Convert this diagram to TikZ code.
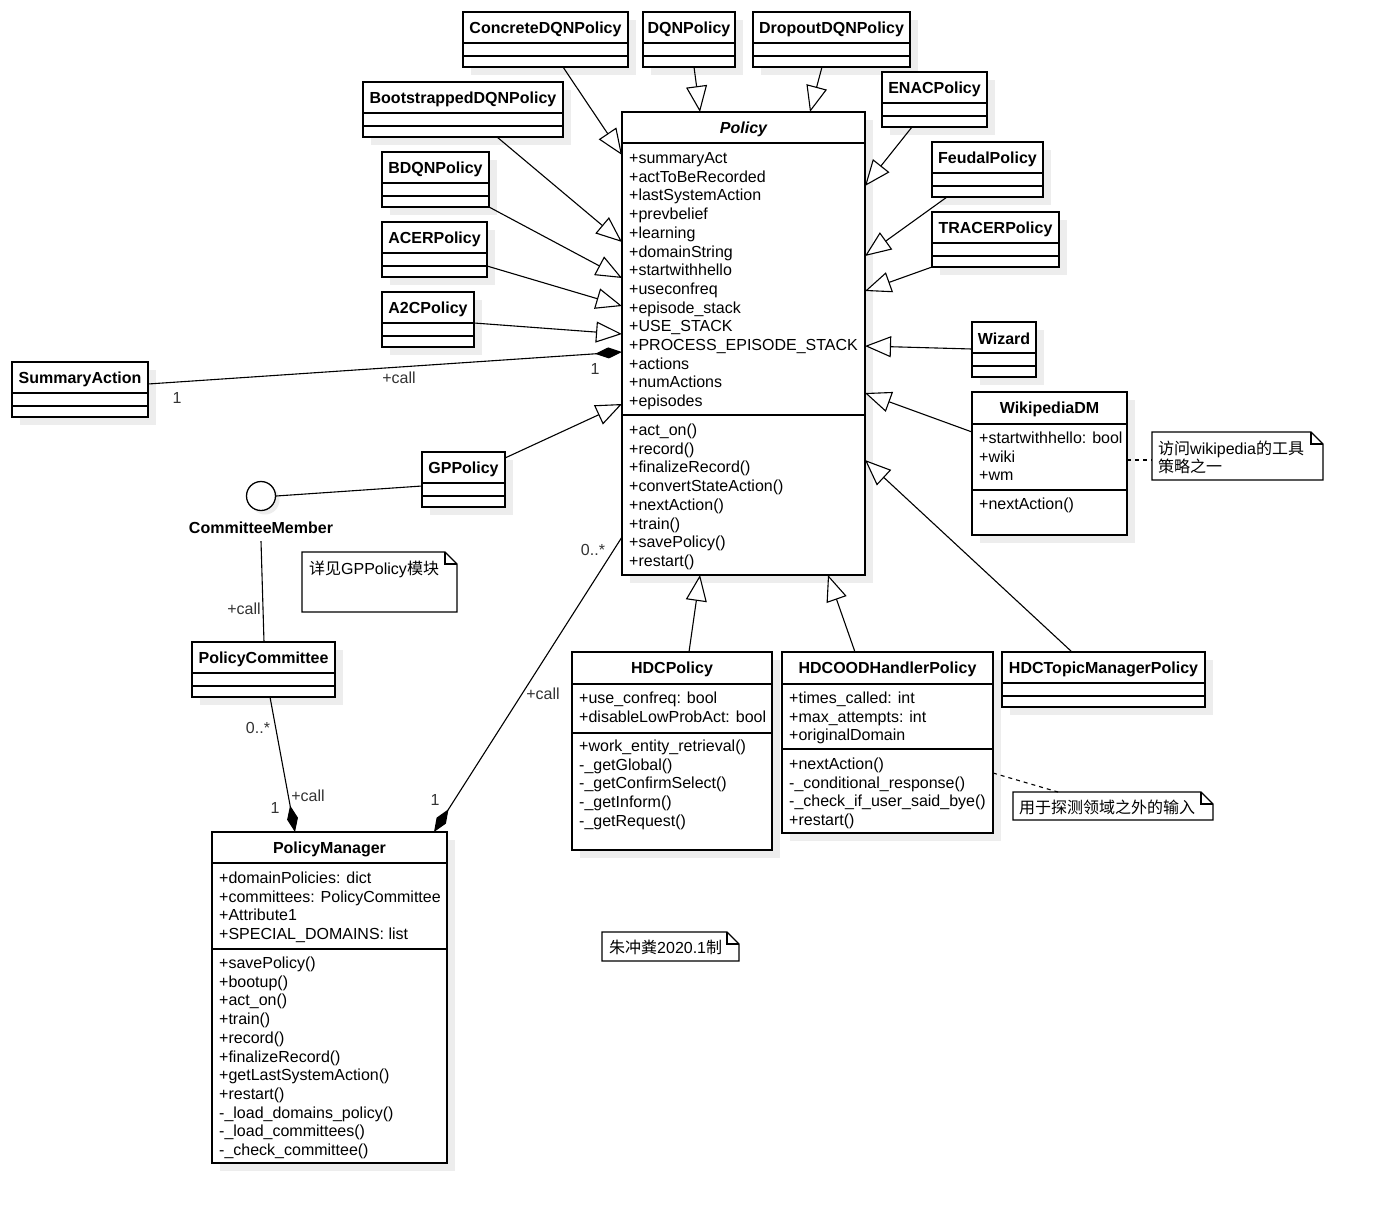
\documentclass[tikz,border=0pt]{standalone}
\usepackage{fontspec}
\setmainfont{Liberation Sans}
\newfontfamily\cjk{Noto Sans CJK SC}
\usetikzlibrary{arrows.meta,calc}
\tikzset{
  shd/.style={fill=black!7, draw=none},
  clsbox/.style={draw, line width=1.3pt, fill=white, inner sep=0pt, outer sep=0pt},
  sepline/.style={line width=1.3pt},
  ttl/.style={font=\fontsize{16}{18.7}\selectfont\bfseries, inner sep=0pt},
  txt/.style={font=\fontsize{16}{18.7}\selectfont, anchor=base west, inner sep=0pt},
  lbl/.style={font=\fontsize{16}{18.7}\selectfont, inner sep=0pt, text=black!80},
  gen/.style={line width=1.1pt, -{Triangle[length=26pt, width=21pt, fill=white]}},
  comp/.style={line width=1.1pt, -{Diamond[length=27pt, width=11pt, fill=black]}},
  assoc/.style={line width=1.1pt},
  dsh/.style={line width=1.1pt, dash pattern=on 4pt off 4pt},
  notebox/.style={draw=none, inner sep=0pt, outer sep=0pt},
  noteline/.style={line width=1.3pt, fill=white},
}
\newcommand\ucls[6]{%
  \fill[shd] (#2+8,#3+8) rectangle ++(#4,#5);
  \node[clsbox, minimum width=#4pt, minimum height=#5pt, anchor=north west] (#1) at (#2,#3) {};
  \node[ttl] (#1-title) at (#2+#4/2,#3+17) {#6};
}
\newcommand\ecls[5]{%
  \ucls{#1}{#2}{#3}{#4}{55}{#5}
  \draw[sepline] (#2,#3+31) -- ++(#4,0);
  \draw[sepline] (#2,#3+44) -- ++(#4,0);
}
\newcommand\tlines[4]{%
  \foreach \s [count=\i from 0] in {#4} {\node[txt] (#1-\i) at (#2,#3+6.5+18.7*\i) {\s};}
}
\newcommand\unote[5]{%
  \node[notebox, minimum width=#4pt, minimum height=#5pt, anchor=north west] (#1) at (#2,#3) {};
  \draw[noteline] (#1.north west) -- ($(#1.north east)+(-12,0)$) -- ($(#1.north east)+(0,12)$) -- (#1.south east) -- (#1.south west) -- cycle;
  \draw[line width=1.1pt] ($(#1.north east)+(-12,0)$) -- ($(#1.north east)+(-12,12)$) -- ($(#1.north east)+(0,12)$);
}
\begin{document}
\begin{tikzpicture}[x=1pt,y=-1pt]
\fill[white] (0,0) rectangle (1373,1213);
\useasboundingbox (0,0) rectangle (1373,1213);

% ---------- simple classes ----------
\ecls{concrete}{463}{12}{165}{ConcreteDQNPolicy}
\ecls{dqn}{643}{12}{92}{DQNPolicy}
\ecls{dropout}{753}{12}{157}{DropoutDQNPolicy}
\ecls{boot}{363}{82}{200}{BootstrappedDQNPolicy}
\ecls{enac}{882}{72}{105}{ENACPolicy}
\ecls{bdqn}{382}{152}{107}{BDQNPolicy}
\ecls{feudal}{932}{142}{111}{FeudalPolicy}
\ecls{acer}{382}{222}{105}{ACERPolicy}
\ecls{tracer}{932}{212}{127}{TRACERPolicy}
\ecls{atc}{382}{292}{92}{A2CPolicy}
\ecls{wizard}{972}{322}{64}{Wizard}
\ecls{summary}{12}{362}{136}{SummaryAction}
\ecls{gp}{422}{452}{83}{GPPolicy}
\ecls{pcomm}{192}{642}{143}{PolicyCommittee}
\ecls{topic}{1002}{652}{203}{HDCTopicManagerPolicy}

% ---------- Policy ----------
\ucls{policy}{622}{112}{243}{463}{\itshape Policy}
\draw[sepline] (622,143) -- ++(243,0);
\draw[sepline] (622,415) -- ++(243,0);
\tlines{pola}{629}{157}{+summaryAct,+actToBeRecorded,+lastSystemAction,+prevbelief,+learning,+domainString,+startwithhello,+useconfreq,+episode\_stack,+USE\_STACK,+PROCESS\_EPISODE\_STACK,+actions,+numActions,+episodes}
\tlines{polm}{629}{429}{+act\_on(),+record(),+finalizeRecord(),+convertStateAction(),+nextAction(),+train(),+savePolicy(),+restart()}

% ---------- WikipediaDM ----------
\ucls{wiki}{972}{392}{155}{143}{WikipediaDM}
\draw[sepline] (972,424) -- ++(155,0);
\draw[sepline] (972,490) -- ++(155,0);
\tlines{wikia}{979}{437}{+startwithhello: bool,+wiki,+wm}
\tlines{wikim}{979}{503}{+nextAction()}

% ---------- HDCPolicy ----------
\ucls{hdc}{572}{652}{200}{198}{HDCPolicy}
\draw[sepline] (572,684) -- ++(200,0);
\draw[sepline] (572,733) -- ++(200,0);
\tlines{hdca}{579}{697}{+use\_confreq: bool,+disableLowProbAct: bool}
\tlines{hdcm}{579}{745}{+work\_entity\_retrieval(),-\_getGlobal(),-\_getConfirmSelect(),-\_getInform(),-\_getRequest()}

% ---------- HDCOODHandlerPolicy ----------
\ucls{ood}{782}{652}{211}{181}{HDCOODHandlerPolicy}
\draw[sepline] (782,684) -- ++(211,0);
\draw[sepline] (782,749) -- ++(211,0);
\tlines{ooda}{789}{697}{+times\_called: int,+max\_attempts: int,+originalDomain}
\tlines{oodm}{789}{763}{+nextAction(),-\_conditional\_response(),-\_check\_if\_user\_said\_bye(),+restart()}

% ---------- PolicyManager ----------
\ucls{pm}{212}{832}{235}{331}{PolicyManager}
\draw[sepline] (212,863) -- ++(235,0);
\draw[sepline] (212,949) -- ++(235,0);
\tlines{pma}{219}{877}{+domainPolicies: dict,+committees: PolicyCommittee,+Attribute1,+SPECIAL\_DOMAINS: list}
\tlines{pmm}{219}{962}{+savePolicy(),+bootup(),+act\_on(),+train(),+record(),+finalizeRecord(),+getLastSystemAction(),+restart(),-\_load\_domains\_policy(),-\_load\_committees(),-\_check\_committee()}

% ---------- CommitteeMember ----------
\fill[shd] (265,500) circle (14.5);
\node[draw, circle, minimum size=29pt, inner sep=0pt, line width=1.3pt, fill=white] (cm) at (261,496) {};
\node[ttl] (cml) at (261,528) {CommitteeMember};

% ---------- notes ----------
\unote{nwiki}{1152}{432}{171}{48}
\node[txt] (nwiki-0) at (1158,454) {{\cjk 访问}wikipedia{\cjk 的工具}};
\node[txt] (nwiki-1) at (1158,472.5) {{\cjk 策略之一}};
\unote{ngp}{302}{552}{155}{60}
\node[txt] (ngp-0) at (309,574) {{\cjk 详见}GPPolicy{\cjk 模块}};
\unote{nood}{1013}{792}{200}{28}
\node[txt] (nood-0) at (1019,813) {{\cjk 用于探测领域之外的输入}};
\unote{nauth}{602}{932}{137}{29}
\node[txt] (nauth-0) at (609,953) {{\cjk 朱冲粪}2020.1{\cjk 制}};

% ---------- generalizations ----------
\draw[gen] ($(concrete.south west)+(100,0)$) -- ($(policy.north west)+(0,43)$);
\draw[gen] ($(dqn.south west)+(51,0)$) -- ($(policy.north west)+(78,0)$);
\draw[gen] ($(dropout.south west)+(69,0)$) -- ($(policy.north west)+(188,0)$);
\draw[gen] ($(boot.south west)+(134,0)$) -- ($(policy.north west)+(0,130)$);
\draw[gen] (bdqn.south east) -- ($(policy.north west)+(0,166)$);
\draw[gen] ($(acer.north east)+(0,44)$) -- ($(policy.north west)+(0,194)$);
\draw[gen] ($(atc.north east)+(0,31)$) -- ($(policy.north west)+(0,222)$);
\draw[gen] ($(gp.north east)+(0,6)$) -- ($(policy.north west)+(0,292)$);
\draw[gen] ($(enac.south west)+(30,0)$) -- ($(policy.north east)+(0,74)$);
\draw[gen] ($(feudal.south west)+(15,0)$) -- ($(policy.north east)+(0,144)$);
\draw[gen] (tracer.south west) -- ($(policy.north east)+(0,179)$);
\draw[gen] ($(wizard.north west)+(0,27)$) -- ($(policy.north east)+(0,234)$);
\draw[gen] ($(wiki.north west)+(0,40)$) -- ($(policy.north east)+(0,281)$);
\draw[gen] ($(topic.north west)+(70,0)$) -- ($(policy.north east)+(0,348)$);
\draw[gen] ($(hdc.north west)+(117,0)$) -- ($(policy.south west)+(78,0)$);
\draw[gen] ($(ood.north west)+(73,0)$) -- ($(policy.south west)+(206,0)$);

% ---------- compositions ----------
\draw[comp] ($(summary.north east)+(0,22)$) -- ($(policy.north west)+(0,240)$);
\draw[comp] ($(policy.south west)+(0,-38)$) -- ($(pm.north west)+(222,0)$);
\draw[comp] ($(pcomm.south west)+(78,0)$) -- ($(pm.north west)+(83,0)$);

% ---------- associations ----------
\draw[assoc] (cm.east) -- ($(gp.north west)+(0,34)$);
\draw[assoc] ($(cml.south)+(0,7)$) -- ($(pcomm.north west)+(72,0)$);

% ---------- note links ----------
\draw[dsh] ($(wiki.north east)+(0,68)$) -- ($(nwiki.north west)+(0,28)$);
\draw[dsh] ($(ood.north east)+(0,121)$) -- ($(nood.north west)+(45,0)$);

% ---------- labels ----------
\node[lbl] (l1) at (399,378) {+call};
\node[lbl] (l2) at (177,398) {1};
\node[lbl] (l3) at (595,369) {1};
\node[lbl] (l4) at (593,550) {0..*};
\node[lbl] (l5) at (543,694) {+call};
\node[lbl] (l6) at (435,800) {1};
\node[lbl] (l7) at (258,728) {0..*};
\node[lbl] (l8) at (308,796) {+call};
\node[lbl] (l9) at (275,808) {1};
\node[lbl] (l10) at (244,609) {+call};
\end{tikzpicture}
\end{document}
